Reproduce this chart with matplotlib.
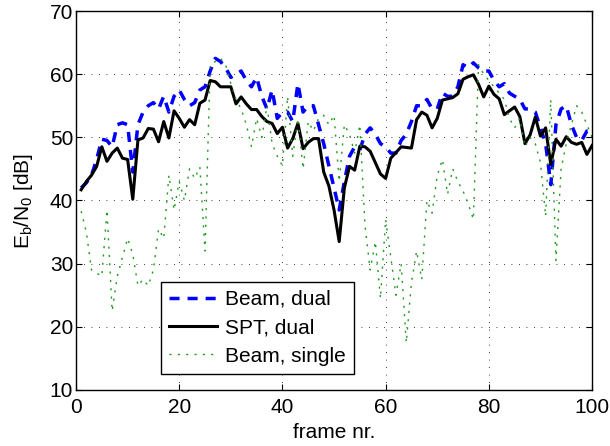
import numpy as np
import matplotlib
matplotlib.use('Agg')
import matplotlib.pyplot as plt

frames = list(range(1, 101))

beam_dual = [42.0, 42.8, 44.0, 46.5, 49.7, 49.5, 48.5, 52.0, 52.3, 52.0,
             44.5, 52.0, 54.0, 55.0, 55.5, 54.5, 56.5, 54.0, 56.5, 57.5,
             56.0, 55.0, 55.5, 57.5, 58.0, 60.5, 62.5, 62.0, 61.0, 59.5,
             60.0, 60.5, 59.0, 58.0, 59.5, 56.5, 54.5, 57.5, 53.0, 54.0,
             54.0, 52.5, 58.5, 54.0, 55.0, 55.0, 52.0, 49.0, 45.5, 42.0,
             38.5, 43.0, 47.0, 48.5, 48.0, 50.5, 51.5, 50.5, 49.0, 48.5,
             47.5, 47.5, 49.5, 50.5, 52.5, 55.0, 55.0, 56.0, 54.5, 54.5,
             57.0, 56.5, 56.5, 58.0, 61.5, 61.0, 61.8, 61.0, 60.5, 60.5,
             59.0, 58.0, 58.5, 57.0, 56.5, 56.0, 54.5, 54.5, 54.0, 51.5,
             49.0, 42.5, 52.0, 54.5, 55.0, 52.0, 50.0, 49.5, 51.0, 51.0]

spt_dual = [41.7, 43.0, 44.0, 45.4, 48.5, 46.2, 47.5, 48.3, 46.7, 46.5,
            40.2, 49.6, 49.9, 51.4, 51.3, 49.3, 52.5, 49.9, 54.2, 53.0,
            51.6, 52.8, 52.0, 55.4, 55.9, 59.0, 58.8, 58.0, 58.0, 58.0,
            55.3, 56.4, 55.3, 54.4, 54.4, 53.3, 52.5, 52.2, 50.6, 51.6,
            48.3, 49.8, 52.2, 48.2, 49.2, 49.8, 49.8, 44.5, 42.3, 38.5,
            33.5, 42.0, 45.4, 44.8, 48.6, 48.5, 47.8, 46.0, 44.2, 43.5,
            46.7, 47.6, 48.5, 48.4, 48.3, 52.8, 54.0, 53.5, 51.5, 53.0,
            55.9, 56.1, 56.3, 56.9, 59.2, 59.6, 59.9, 58.4, 56.4, 58.1,
            56.8, 56.1, 53.6, 54.2, 54.8, 53.3, 49.0, 50.4, 53.2, 50.2,
            51.5, 45.7, 49.7, 48.6, 50.1, 49.2, 48.9, 49.2, 47.3, 48.7]

beam_single = [38.3, 35.0, 29.0, 28.5, 28.0, 38.5, 22.5, 28.0, 31.0, 34.0,
               31.5, 26.5, 27.5, 26.5, 29.0, 35.5, 34.0, 44.0, 38.5, 43.0,
               40.0, 45.0, 43.5, 45.3, 32.0, 61.5, 62.0, 62.5, 61.5, 58.5,
               56.0, 54.5, 52.0, 48.5, 53.0, 50.0, 55.0, 49.0, 47.0, 45.5,
               56.5, 47.0, 53.0, 45.0, 52.5, 51.0, 53.0, 53.5, 52.0, 53.5,
               43.0, 52.0, 50.5, 47.5, 52.0, 36.0, 29.0, 33.5, 24.5, 37.0,
               31.0, 25.0, 30.0, 17.5, 27.0, 32.0, 27.5, 40.0, 38.0, 44.0,
               46.5, 41.0, 45.0, 43.0, 41.5, 39.5, 37.0, 61.5, 60.0, 59.0,
               58.0, 57.0, 56.0, 53.0, 51.5, 53.0, 48.5, 50.0, 49.0, 46.0,
               37.5, 56.0, 30.5, 45.0, 49.0, 52.0, 55.0, 54.0, 52.0, 50.0]

plt.rcParams['font.family'] = ['Liberation Sans', 'DejaVu Sans']

fig = plt.figure(figsize=(6.1, 4.46), dpi=100)
ax = fig.add_axes([0.1246, 0.1256, 0.846, 0.8497])

ax.plot(frames, beam_dual, color='#0000ff', linestyle=(0, (2.9, 2.3)), linewidth=2.5, label='Beam, dual')
ax.plot(frames, spt_dual, color='black', linewidth=2.2, label='SPT, dual')
ax.plot(frames, beam_single, color='#1f9a1f', linestyle=(0, (1.5, 4.5)), linewidth=1.0, label='Beam, single')

ax.set_xlim(0, 100)
ax.set_ylim(10, 70)
ax.set_xticks([0, 20, 40, 60, 80, 100])
ax.set_yticks([10, 20, 30, 40, 50, 60, 70])
ax.tick_params(direction='in', top=True, right=True, labelsize=15, length=4)
ax.tick_params(axis='x', pad=6)
ax.tick_params(axis='y', pad=2)
ax.grid(True, color='black', linestyle=(0, (1, 8)), linewidth=0.6)
for s in ax.spines.values():
    s.set_linewidth(1.0)

ax.set_xlabel('frame nr.', fontsize=15, labelpad=4)
ax.set_ylabel(r'E$_\mathregular{b}$/N$_\mathregular{0}$ [dB]', fontsize=15, labelpad=11)

leg = ax.legend(loc='lower left', bbox_to_anchor=(0.165, 0.042), fontsize=15,
                frameon=True, fancybox=False, edgecolor='black', framealpha=1,
                handlelength=2.3, handletextpad=0.35, borderpad=0.4,
                labelspacing=0.45, borderaxespad=0)
leg.get_frame().set_linewidth(1.0)

fig.savefig('out.png', dpi=100)
